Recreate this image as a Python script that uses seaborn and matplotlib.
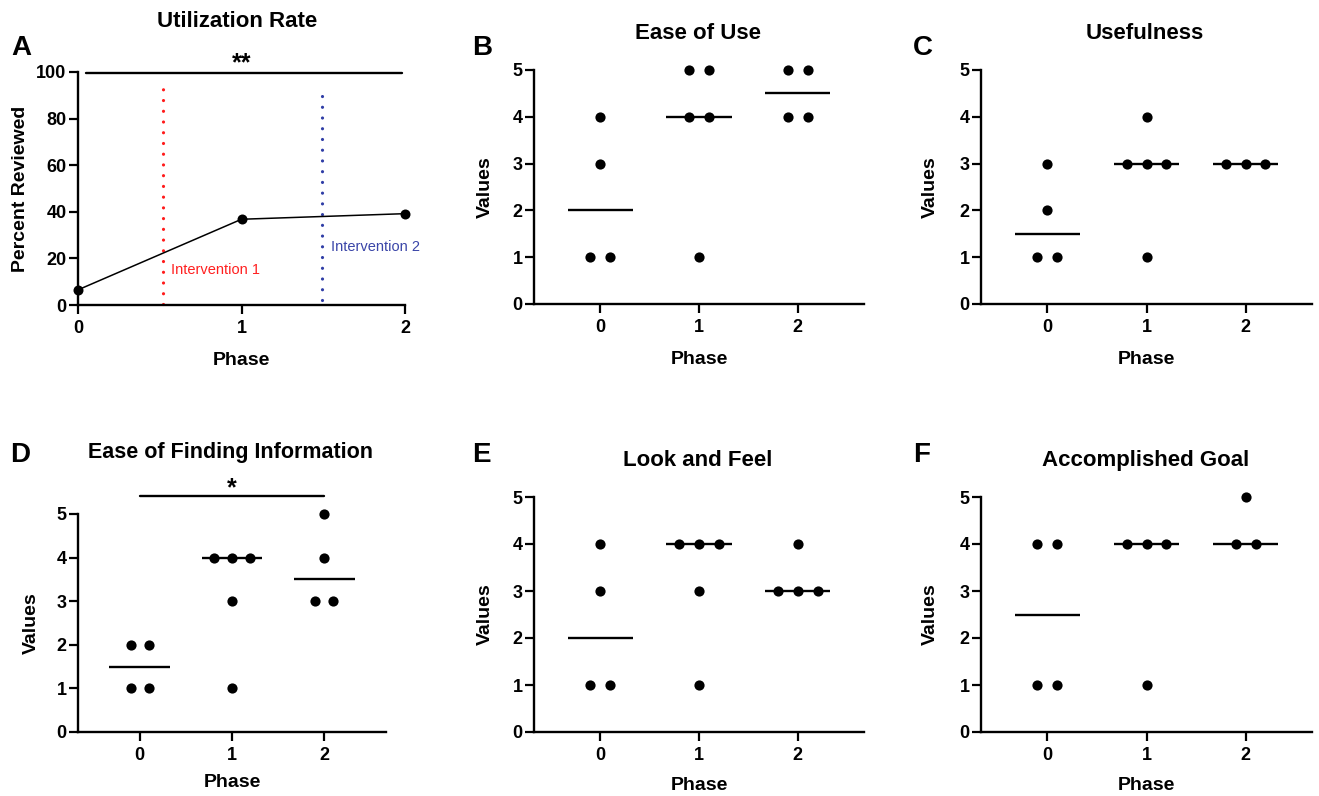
import numpy as np
import pandas as pd
import matplotlib
matplotlib.use("Agg")
import matplotlib.pyplot as plt
import seaborn as sns

# ---------------- data ----------------
phases = [0, 1, 2]
phase_labels = ["0", "1", "2"]

utilization_pct = [6.5, 36.8, 39.2]
intervention_x = [0.52, 1.49]
intervention_labels = ["Intervention 1", "Intervention 2"]

ease_of_use = [[1, 1, 3, 4], [1, 4, 4, 5, 5], [4, 4, 5, 5]]
usefulness = [[1, 1, 2, 3], [1, 3, 3, 3, 4], [3, 3, 3]]
ease_finding = [[1, 1, 2, 2], [1, 3, 4, 4, 4], [3, 3, 4, 5]]
look_feel = [[1, 1, 3, 4], [1, 3, 4, 4, 4], [3, 3, 3, 4]]
accomplished = [[1, 1, 4, 4], [1, 4, 4, 4], [4, 4, 5]]

titles = ["Ease of Use", "Usefulness", "Ease of Finding Information",
          "Look and Feel", "Accomplished Goal"]

# ---------------- style ----------------
sns.set_theme(style="ticks")
plt.rcParams["font.family"] = ["Liberation Sans", "DejaVu Sans"]
plt.rcParams["axes.linewidth"] = 1.7

W, H = 1319, 796
fig = plt.figure(figsize=(W / 100, H / 100), dpi=100)
fig.patch.set_facecolor("white")


def add_ax(l, t, r, b):
    return fig.add_axes([l / W, 1 - b / H, (r - l) / W, (b - t) / H])


def style(ax, ylabel_x, xlabel_y, ylabel):
    sns.despine(ax=ax)
    ax.tick_params(axis="both", length=6.8, width=1.6, color="black",
                   labelsize=13, labelcolor="black")
    ax.tick_params(axis="x", pad=4)
    ax.tick_params(axis="y", pad=1.5)
    for lab in ax.get_xticklabels() + ax.get_yticklabels():
        lab.set_fontweight("bold")
    for s in ["left", "bottom"]:
        ax.spines[s].set_color("black")
        ax.spines[s].set_linewidth(1.7)
    ax.set_xlabel("Phase", fontsize=14, fontweight="bold", color="black")
    ax.set_ylabel(ylabel, fontsize=14, fontweight="bold", color="black")
    ax.yaxis.set_label_coords(ylabel_x, 0.5)
    ax.xaxis.set_label_coords(0.5, xlabel_y)
    ax.set_facecolor("white")
    ax.grid(False)


def long_df(groups):
    rows = []
    for p, vals in zip(phases, groups):
        counts = pd.Series(vals).value_counts().sort_index()
        for v, cnt in counts.items():
            offs = (np.arange(cnt) - (cnt - 1) / 2) * 0.2
            for o in offs:
                rows.append(dict(phase=p, value=v, xpos=p + o))
    return pd.DataFrame(rows)


def dot_panel(ax, groups):
    df = long_df(groups)
    sns.scatterplot(data=df, x="xpos", y="value", color="black", s=54,
                    linewidth=0, clip_on=False, ax=ax, zorder=3)
    for p, vals in zip(phases, groups):
        ax.hlines(np.median(vals), p - 0.33, p + 0.33, color="black",
                  lw=1.7, zorder=2)
    ax.set_xlim(-0.67, 2.67)
    ax.set_ylim(0, 5)
    ax.set_xticks(phases)
    ax.set_xticklabels(phase_labels)
    ax.set_yticks(range(6))


# ---------------- panel A ----------------
axA = add_ax(78, 72, 405, 305)
sns.lineplot(x=phases, y=utilization_pct, color="black", lw=1.1, marker="o",
             markersize=7.2, markeredgewidth=0, ax=axA, clip_on=False, zorder=3)
axA.plot([intervention_x[0]] * 2, [0.5, 96.6], color="#ff1a1a", lw=2.3,
         linestyle=(0, (0.01, 3.35)), dash_capstyle="round", zorder=2,
         clip_on=False)
axA.plot([intervention_x[1]] * 2, [2, 93.5], color="#2f3da6", lw=2.3,
         linestyle=(0, (0.01, 3.35)), dash_capstyle="round", zorder=2,
         clip_on=False)
axA.text(intervention_x[0] + 0.05, 15, intervention_labels[0], color="#ff2020",
         fontsize=10.5, va="center", ha="left")
axA.text(intervention_x[1] + 0.06, 25, intervention_labels[1], color="#3a45a8",
         fontsize=10.5, va="center", ha="left")
axA.plot([0.05, 1.98], [99.5, 99.5], color="black", lw=1.7, clip_on=False)
axA.text(1, 100.8, "**", fontsize=18, fontweight="bold", ha="center",
         va="baseline", color="black")
axA.set_xlim(0, 2)
axA.set_ylim(0, 100)
axA.set_xticks(phases)
axA.set_xticklabels(phase_labels)
axA.set_yticks(range(0, 101, 20))
style(axA, -0.150, -0.202, "Percent Reviewed")

# ---------------- panels B-F ----------------
panels = [
    (ease_of_use, (534, 70, 864, 304), -0.121, -0.20),
    (usefulness, (981, 70, 1312, 304), -0.127, -0.20),
    (ease_finding, (78, 514, 386, 732), -0.123, -0.193),
    (look_feel, (534, 497, 864, 732), -0.121, -0.192),
    (accomplished, (981, 497, 1312, 732), -0.127, -0.192),
]
axes = []
for groups, box, ylx, xly in panels:
    ax = add_ax(*box)
    dot_panel(ax, groups)
    style(ax, ylx, xly, "Values")
    axes.append(ax)

# significance bar in D
axD = axes[2]
axD.plot([0, 2], [5.405, 5.405], color="black", lw=1.7, clip_on=False)
axD.text(1, 5.44, "*", fontsize=18, fontweight="bold", ha="center",
         va="baseline", color="black")

# ---------------- titles & panel letters ----------------
title_specs = [
    ("Utilization Rate", 237, 27.3, 16),
    (titles[0], 698, 39.3, 16),
    (titles[1], 1145, 39.3, 16),
    (titles[2], 231, 458.3, 15.5),
    (titles[3], 698, 465.7, 16),
    (titles[4], 1146, 465.7, 16),
]
for txt, x, y, fs in title_specs:
    fig.text(x / W, 1 - y / H, txt, fontsize=fs, fontweight="bold",
             ha="center", va="baseline", color="black")

letters = [("A", 11.7, 55), ("B", 471.7, 55), ("C", 913.3, 55),
           ("D", 10, 462.3), ("E", 472.3, 462.3), ("F", 913.3, 462.3)]
for txt, x, y in letters:
    fig.text(x / W, 1 - y / H, txt, fontsize=20, fontweight="bold",
             ha="left", va="baseline", color="black")

fig.savefig("out.png", dpi=100, facecolor="white")
